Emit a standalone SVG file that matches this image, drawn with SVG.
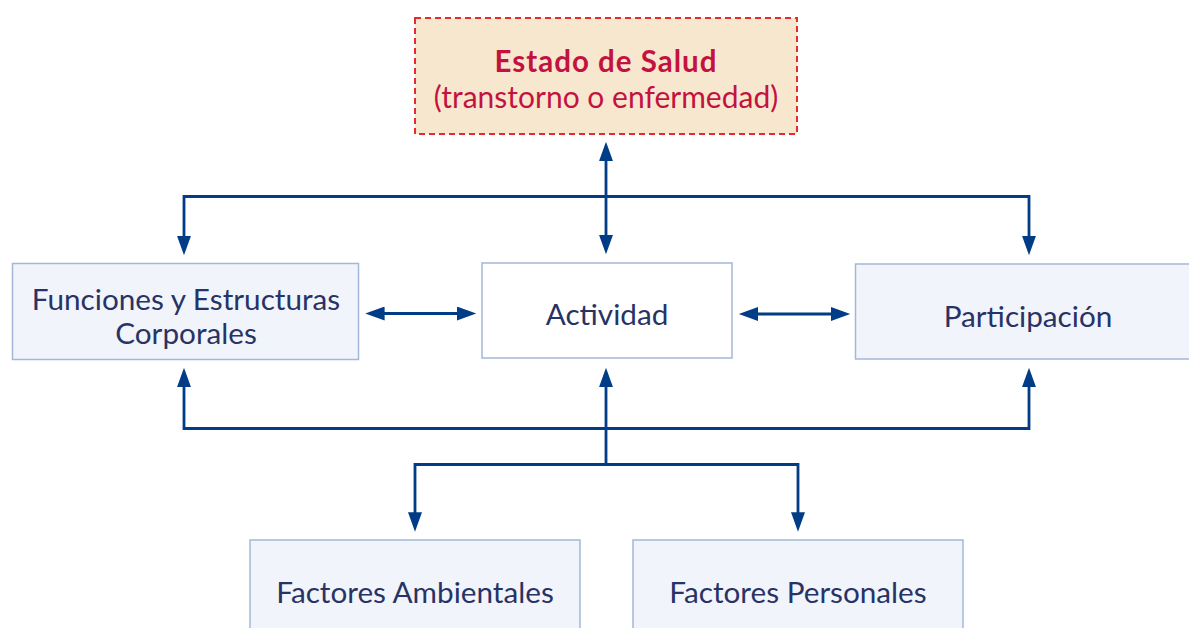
<svg xmlns="http://www.w3.org/2000/svg" width="1189" height="628" viewBox="0 0 1189 628">
<style>
.box{fill:#f1f4fa;stroke:#a3b8d8;stroke-width:1.5}
.white{fill:#ffffff}
.lbl{font-family:Lato,"Noto Sans",sans-serif;font-size:29.7px;fill:#283365;text-anchor:middle}
.con{fill:none;stroke:#003d86;stroke-width:2.8;stroke-linejoin:miter}
</style>
<defs>
<marker id="ah" markerUnits="userSpaceOnUse" markerWidth="20" markerHeight="14" refX="2" refY="6.5" orient="auto-start-reverse" viewBox="0 0 18 13">
<path d="M0,0 L18,6.5 L0,13 Z" fill="#003d86"/>
</marker>
</defs>
<rect width="1189" height="628" fill="#ffffff"/>
<g id="estado">
<rect x="415" y="18" width="382" height="116" fill="#f8e7cf" stroke="#e52a30" stroke-width="2" stroke-dasharray="6 4"/>
<text x="606" y="72" font-family="Lato,'Noto Sans',sans-serif" font-size="29.5" font-weight="bold" letter-spacing="1" fill="#c4123f" text-anchor="middle">Estado de Salud</text>
<text x="606" y="108" font-family="Lato,'Noto Sans',sans-serif" font-size="30" fill="#c4123f" text-anchor="middle">(transtorno o enfermedad)</text>
</g>
<g id="funciones">
<rect class="box" x="12.5" y="263.5" width="346" height="96"/>
<text class="lbl" x="186" y="310">Funciones y Estructuras</text>
<text class="lbl" x="186" y="344">Corporales</text>
</g>
<g id="actividad">
<rect class="box white" x="482" y="263" width="250" height="95"/>
<text class="lbl" x="607" y="325">Actividad</text>
</g>
<g id="participacion">
<rect class="box" x="855.5" y="264" width="345" height="95"/>
<text class="lbl" x="1028" y="327">Participación</text>
</g>
<g id="ambientales">
<rect class="box" x="250" y="540" width="330" height="100"/>
<text class="lbl" x="415" y="603">Factores Ambientales</text>
</g>
<g id="personales">
<rect class="box" x="633" y="540" width="330" height="100"/>
<text class="lbl" x="798" y="603">Factores Personales</text>
</g>
<g id="connectors">
<path class="con" d="M606,159 V237" marker-start="url(#ah)" marker-end="url(#ah)"/>
<path class="con" d="M184,238 V196.5 H1029 V238" marker-start="url(#ah)" marker-end="url(#ah)"/>
<path class="con" d="M382.5,313.5 H459" marker-start="url(#ah)" marker-end="url(#ah)"/>
<path class="con" d="M756,314 H833" marker-start="url(#ah)" marker-end="url(#ah)"/>
<path class="con" d="M184,385 V428.5 H1029 V385" marker-start="url(#ah)" marker-end="url(#ah)"/>
<path class="con" d="M606,464.5 V385" marker-end="url(#ah)"/>
<path class="con" d="M415,514.5 V464.5 H798 V514.5" marker-start="url(#ah)" marker-end="url(#ah)"/>
</g>
</svg>
